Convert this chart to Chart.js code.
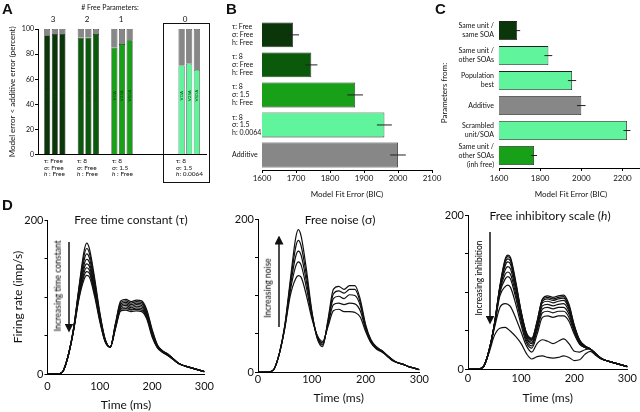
<!DOCTYPE html>
<html>
<head>
<meta charset="utf-8">
<script src="https://cdn.jsdelivr.net/npm/chart.js@4.4.0/dist/chart.umd.min.js"></script>
<style>
html, body { margin: 0; padding: 0; background: #fff; overflow: hidden; }
#fig { position: relative; width: 640px; height: 412px; font-family: Lato, 'Open Sans', sans-serif; color: #111; overflow: hidden; }
canvas { position: absolute; }
.t { position: absolute; white-space: nowrap; line-height: 1; }
.letter { font-family: 'Liberation Sans', Arial, sans-serif; font-weight: bold; font-size: 15px; }
.rot { transform: translate(-50%, -50%) rotate(-90deg); color: #000; }
.ctr { transform: translate(-50%, -50%); }
.params { font-size: 6.5px; line-height: 6.6px; }
</style>
</head>
<body>
<div id="fig">
  <canvas id="cA" width="207" height="160" style="left:0;top:0"></canvas>
  <canvas id="cB" width="212" height="188" style="left:232px;top:14px"></canvas>
  <canvas id="cC" width="210" height="200" style="left:436px;top:0"></canvas>
  <canvas id="cD1" width="220" height="214" style="left:0;top:200px"></canvas>
  <canvas id="cD2" width="205" height="212" style="left:225px;top:200px"></canvas>
  <canvas id="cD3" width="205" height="213" style="left:435px;top:196px"></canvas>
  <div id="overlay"></div>
  <svg width="640" height="412" style="position:absolute;left:0;top:0">
    <defs>
      <marker id="ah" markerWidth="6" markerHeight="6" refX="3" refY="3" orient="auto">
        <path d="M0,0 L6,3 L0,6 z" fill="#111"></path>
      </marker>
    </defs>
    <line x1="69" y1="242" x2="69" y2="328" stroke="#111" stroke-width="1.5" marker-end="url(#ah)"></line>
    <line x1="279" y1="327" x2="279" y2="240" stroke="#111" stroke-width="1.5" marker-end="url(#ah)"></line>
    <line x1="490" y1="232" x2="490" y2="320" stroke="#111" stroke-width="1.5" marker-end="url(#ah)"></line>
  </svg>
</div>
<script>
// ---- panel A: % of units where model error < additive error
const groupLabels = ['3', '2', '1', '', '0'];
const barNames = ['VDA', 'V2SA', 'VSDA'];
const firstBar = [95, 93, 85, null, 71];
const secondBar = [96, 93, 88, null, 72.5];
const thirdBar = [96, 96, 91, null, 67.5];
const aTicks = [0, 20, 40, 60, 80, 100];

// ---- panel B: fit error per parameter set
const bLabels = [['τ: Free', 'σ: Free', 'h: Free'], ['τ: 8', 'σ: Free', 'h: Free'],
  ['τ: 8', 'σ: 1.5', 'h: Free'], ['τ: 8', 'σ: 1.5', 'h: 0.0064'], 'Additive'];
const bBic = [1691, 1745, 1874, 1960, 2000];
const bErr = [18, 18, 23, 22, 23];

// ---- panel C: fit error by parameter source
const cLabels = [['Same unit /', 'same SOA'], ['Same unit /', 'other SOAs'], ['Population', 'best'],
  'Additive', ['Scrambled', 'unit/SOA'], ['Same unit /', 'other SOAs', '(inh free)']];
const cBic = [1688, 1840, 1955, 2000, 2222, 1770];
const cErr = [15, 19, 20, 21, 17, 15];

// ---- panel D: model firing rate curves
const timeMs = [0, 10, 20, 25, 30, 40, 50, 60, 70, 75, 80, 90, 100, 110, 120, 130, 140, 150, 160, 170, 180, 190, 200, 210, 220, 230, 240, 250, 260, 270, 280, 290, 300];

const tau1 = [0,0,0,1,4,25,60,112,160,170,163,125,80,46,35,66,95,97,94,96,95,83,58,38,30,26,20,14,11,9,7,5,3];
const tau2 = [0,0,0,1,4,25,60,110,154,163,157,121,78,45,35,65,93,95,92,94,93,81,56,37,30,26,20,14,11,9,7,5,3];
const tau3 = [0,0,0,1,4,25,59,108,148,156,151,117,76,45,35,64,91,93,90,92,91,79,55,37,30,25,20,14,11,9,7,5,3];
const tau4 = [0,0,0,1,4,25,59,105,142,149,145,113,74,44,35,63,89,91,88,90,89,77,54,36,29,25,20,14,11,9,7,5,3];
const tau5 = [0,0,0,1,4,25,58,103,137,143,140,110,72,44,35,62,87,89,86,88,87,76,52,36,29,25,20,14,11,9,7,5,3];
const tau6 = [0,0,0,1,4,25,58,101,132,138,135,107,71,43,35,61,85,87,84,86,85,74,51,35,29,25,19,14,11,9,7,5,3];
const tau7 = [0,0,0,1,4,25,57,99,128,133,131,104,70,43,35,60,84,85,83,84,83,73,50,35,29,24,19,14,11,9,7,5,3];
const tau8 = [0,0,0,1,4,25,57,97,123,128,126,101,68,42,35,59,82,83,81,82,81,71,48,34,28,24,19,14,11,9,7,5,3];

const noise1 = [0,0,0,1,4,25,62,120,175,186,178,134,80,44,33,68,108,112,108,113,113,95,62,42,33,28,22,16,12,10,7,5,3];
const noise2 = [0,0,0,1,4,25,61,116,163,172,165,126,78,45,35,66,102,106,103,108,108,91,60,41,32,28,22,16,12,10,7,5,3];
const noise3 = [0,0,0,1,4,25,60,111,151,158,153,118,76,46,36,64,96,99,96,101,100,87,58,40,31,27,21,15,12,10,7,5,3];
const noise4 = [0,0,0,1,4,25,59,106,138,144,140,110,74,47,38,62,88,90,88,90,89,80,56,39,31,27,21,15,12,10,7,5,3];
const noise5 = [0,0,0,1,4,25,58,100,122,126,124,100,70,48,40,59,80,82,79,79,78,72,53,38,30,26,21,15,12,10,7,5,3];

const inh1 = [0,0,0,1,4,25,60,108,143,148,145,113,75,47,40,62,91,95,93,95,96,84,57,38,30,26,20,14,11,9,7,5,3];
const inh2 = [0,0,0,1,4,25,60,107,141,146,143,111,74,46,39,61,90,93,91,93,94,82,56,37,30,26,20,14,11,9,7,5,3];
const inh3 = [0,0,0,1,4,25,60,106,138,143,140,109,73,45,38,60,88,91,89,91,92,80,55,37,30,26,20,14,11,9,7,5,3];
const inh4 = [0,0,0,1,4,25,59,105,134,139,136,106,71,44,37,58,86,88,86,88,89,78,54,36,29,26,20,14,11,9,7,5,3];
const inh5 = [0,0,0,1,4,25,59,103,129,133,130,102,68,42,35,56,82,84,82,84,85,75,52,35,29,26,20,14,11,9,7,5,3];
const inh6 = [0,0,0,1,4,25,58,101,123,126,123,97,65,40,33,53,78,80,78,80,80,71,50,34,28,26,20,14,11,9,7,5,3];
const inh7 = [0,0,0,1,4,25,58,99,117,120,117,92,62,37,30,50,73,75,73,75,75,67,48,33,28,26,20,14,11,9,7,5,3];
const inh8 = [0,0,0,1,4,25,57,95,107,109,106,84,57,34,27,45,67,69,67,69,69,62,45,32,28,26,20,14,11,9,7,5,3];
const inh9 = [0,0,0,1,4,24,54,80,85,84,81,66,48,30,22,33,38,36,33,36,39,33,23,22,25,26,19,14,11,9,7,5,3];
const inh10 = [0,0,0,1,4,22,44,53,54,52,49,42,33,20,13,16,17,15,14,15,17,15,11,12,19,23,18,13,11,9,7,5,3];

const darkGreen = '#0a360a', midGreen = '#0b5a0b', green = '#18a018', lightGreen = '#60f59c', grey = '#878787';

Chart.defaults.font.family = "Lato, 'Open Sans', sans-serif";
Chart.defaults.color = '#111';
Chart.defaults.animation = false;
Chart.defaults.responsive = false;
Chart.defaults.plugins.legend.display = false;
Chart.defaults.plugins.tooltip.enabled = false;

// text labels rotated inside the green bars of panel A
const barText = {
  id: 'barText',
  afterDatasetsDraw(chart, args, opts) {
    const ctx = chart.ctx, y = chart.scales.y;
    ctx.save();
    ctx.font = '4.5px Lato';
    ctx.fillStyle = '#0a4a0a';
    ctx.textAlign = 'center';
    ctx.textBaseline = 'middle';
    [0, 2, 4].forEach((di, k) => {
      chart.getDatasetMeta(di).data.forEach((bar, i) => {
        if (chart.data.datasets[di].data[i] == null) return;
        ctx.save();
        ctx.translate(bar.x, y.getPixelForValue(opts.at));
        ctx.rotate(-Math.PI / 2);
        ctx.fillText(barNames[k], 0, 0);
        ctx.restore();
      });
    });
    ctx.restore();
  }
};

// horizontal error bars at the bar ends
const errBars = {
  id: 'errBars',
  afterDatasetsDraw(chart, args, opts) {
    const ctx = chart.ctx, x = chart.scales.x;
    const ds = chart.data.datasets[0];
    ctx.save();
    ctx.strokeStyle = '#222';
    ctx.lineWidth = 1;
    chart.getDatasetMeta(0).data.forEach((bar, i) => {
      const v = ds.data[i], e = opts.err[i];
      ctx.beginPath();
      ctx.moveTo(x.getPixelForValue(v - e), bar.y);
      ctx.lineTo(x.getPixelForValue(v + e), bar.y);
      ctx.stroke();
    });
    ctx.restore();
  }
};

// ---------- Panel A
const groupColors = [darkGreen, midGreen, green, '#fff', lightGreen];
const rest = arr => arr.map(v => v == null ? null : 100 - v);
const aSets = [];
[firstBar, secondBar, thirdBar].forEach((arr, k) => {
  aSets.push({ label: barNames[k], data: arr, stack: 's' + k, backgroundColor: groupColors, borderColor: '#1a1a1a', borderWidth: 0.6 });
  aSets.push({ label: barNames[k] + ' rest', data: rest(arr), stack: 's' + k, backgroundColor: grey, borderColor: '#1a1a1a', borderWidth: 0.6 });
});

new Chart(document.getElementById('cA'), {
  type: 'bar',
  data: { labels: groupLabels, datasets: aSets },
  options: {
    layout: { padding: { top: 29, right: 1, left: 0, bottom: 0 } },
    categoryPercentage: 0.68,
    barPercentage: 0.8,
    plugins: { barText: { at: 47 } },
    scales: {
      x: {
        stacked: true,
        ticks: { display: false },
        grid: { display: false, drawTicks: false },
        border: { color: '#000', width: 1 },
        afterFit: s => { s.height = 3; }
      },
      y: {
        stacked: true, min: 0, max: 100,
        afterBuildTicks: s => { s.ticks = aTicks.map(v => ({ value: v })); },
        ticks: { font: { size: 7 }, padding: 1 },
        grid: { display: true, drawOnChartArea: false, tickLength: 3, color: '#000' },
        border: { color: '#000', width: 1 },
        title: { display: true, text: 'Model error < additive error (percent)', font: { size: 8 }, padding: { top: 8, bottom: 0 } },
        afterFit: s => { s.width = 38; }
      }
    }
  },
  plugins: [barText]
});

// ---------- Panel B
new Chart(document.getElementById('cB'), {
  type: 'bar',
  data: {
    labels: bLabels,
    datasets: [{ data: bBic, backgroundColor: [darkGreen, midGreen, green, lightGreen, grey], borderColor: '#222', borderWidth: 0.8 }]
  },
  options: {
    indexAxis: 'y',
    layout: { padding: { top: 4, right: 12, left: 0, bottom: 0 } },
    categoryPercentage: 0.83,
    barPercentage: 1,
    plugins: { errBars: { err: bErr } },
    scales: {
      x: {
        min: 1600, max: 2100,
        ticks: { stepSize: 100, font: { size: 8 }, padding: 1, maxRotation: 0, callback: v => String(v) },
        grid: { display: true, drawOnChartArea: false, tickLength: 3, color: '#000' },
        border: { color: '#000', width: 1 },
        title: { display: true, text: 'Model Fit Error (BIC)', font: { size: 8 }, padding: { top: 0, bottom: 3 } },
        afterFit: s => { s.height = 32; }
      },
      y: {
        ticks: { font: { size: 7, lineHeight: 1.1 }, crossAlign: 'far', padding: 2, autoSkip: false },
        grid: { display: false, drawTicks: false },
        border: { display: false },
        afterFit: s => { s.width = 30; }
      }
    }
  },
  plugins: [errBars]
});

// ---------- Panel C
new Chart(document.getElementById('cC'), {
  type: 'bar',
  data: {
    labels: cLabels,
    datasets: [{ data: cBic, backgroundColor: [darkGreen, lightGreen, lightGreen, grey, lightGreen, green], borderColor: '#222', borderWidth: 0.8 }]
  },
  options: {
    indexAxis: 'y',
    layout: { padding: { top: 9, right: 3, left: 0, bottom: 0 } },
    categoryPercentage: 0.76,
    barPercentage: 1,
    plugins: { errBars: { err: cErr } },
    scales: {
      x: {
        min: 1600, max: 2300,
        ticks: { stepSize: 100, font: { size: 8 }, padding: 3, maxRotation: 0, callback: v => (v % 200 === 0 ? String(v) : '') },
        grid: { display: true, drawOnChartArea: false, tickLength: 3, color: '#000' },
        border: { color: '#000', width: 1 },
        title: { display: true, text: 'Model Fit Error (BIC)', font: { size: 8 }, padding: { top: 0, bottom: 1 } },
        afterFit: s => { s.height = 32; }
      },
      y: {
        ticks: { font: { size: 7, lineHeight: 1.25 }, padding: 5, autoSkip: false },
        grid: { display: false, drawTicks: false },
        border: { display: false },
        title: { display: true, text: 'Parameters from:', font: { size: 8 }, padding: { top: 4, bottom: 0 } },
        afterFit: s => { s.width = 63; }
      }
    }
  },
  plugins: [errBars]
});

// ---------- Panel D
function rateChart(id, curves, o) {
  return new Chart(document.getElementById(id), {
    type: 'line',
    data: {
      datasets: curves.map(c => ({
        data: c.map((v, i) => ({ x: timeMs[i], y: v })),
        borderColor: '#111', borderWidth: 1.2, pointRadius: 0, fill: false,
        cubicInterpolationMode: 'monotone'
      }))
    },
    options: {
      layout: { padding: { top: o.top, right: 10, left: 0, bottom: 0 } },
      scales: {
        x: {
          type: 'linear', min: 0, max: 300,
          ticks: { stepSize: 100, font: { size: 11 }, padding: o.xPad, maxRotation: 0 },
          grid: { display: false, drawTicks: false },
          border: { color: '#000', width: 1 },
          title: { display: true, text: 'Time (ms)', font: { size: 12 }, padding: { top: 0, bottom: o.tPad } },
          afterFit: s => { s.height = 40; }
        },
        y: {
          min: 0, max: 200,
          ticks: { stepSize: 50, font: { size: 11 }, padding: 1, callback: v => (v === 0 || v === 200 ? String(v) : '') },
          grid: { display: true, drawOnChartArea: false, tickLength: 3, color: '#000' },
          border: { color: '#000', width: 1 },
          title: { display: !!o.yTitle, text: o.yTitle || '', font: { size: 12 }, padding: { top: 11, bottom: 0 } },
          afterFit: s => { s.width = o.yW; }
        }
      }
    }
  });
}

rateChart('cD1', [tau1, tau2, tau3, tau4, tau5, tau6, tau7, tau8], { top: 20, xPad: 6, tPad: 2, yW: 47.5, yTitle: 'Firing rate (imp/s)' });
rateChart('cD2', [noise1, noise2, noise3, noise4, noise5], { top: 19, xPad: 1, tPad: 7, yW: 33 });
rateChart('cD3', [inh1, inh2, inh3, inh4, inh5, inh6, inh7, inh8, inh9, inh10], { top: 19, xPad: 3, tPad: 4, yW: 33 });

// ---------- text overlays
const overlay = document.getElementById('overlay');
function addText(html, x, y, cls, style) {
  const d = document.createElement('div');
  d.className = 't ' + (cls || '');
  d.innerHTML = html;
  d.style.left = x + 'px';
  d.style.top = y + 'px';
  if (style) d.style.cssText += style;
  overlay.appendChild(d);
  return d;
}

addText('A', 2, 1, 'letter');
addText('B', 226, 1, 'letter');
addText('C', 435, 1, 'letter');
addText('D', 2, 197, 'letter');

addText('# Free Parameters:', 110, 7, 'ctr', 'font-size:7px');
[['3', 53], ['2', 87], ['1', 121], ['0', 185]].forEach(([s, x]) => addText(s, x, 19, 'ctr', 'font-size:8px'));

const aParams = [
  [44, 'τ: Free<br>σ: Free<br><i>h</i> : Free'],
  [77, 'τ: 8<br>σ: Free<br><i>h</i> : Free'],
  [112, 'τ: 8<br>σ: 1.5<br><i>h</i> : Free'],
  [176, 'τ: 8<br>σ: 1.5<br><i>h</i>: 0.0064']
];
aParams.forEach(([x, s]) => addText(s, x, 158, 'params'));

const box = document.createElement('div');
box.style.cssText = 'position:absolute;left:163px;top:23px;width:45px;height:158px;border:1.5px solid #111;';
overlay.appendChild(box);

addText('Free time constant (τ)', 131, 220, 'ctr', 'font-size:12px');
addText('Free noise (σ)', 340, 220, 'ctr', 'font-size:12px');
addText('Free inhibitory scale (<i>h</i>)', 550, 216, 'ctr', 'font-size:12px');

addText('Increasing time constant', 58, 286, 'rot', 'font-size:8.5px');
addText('Increasing noise', 268, 288, 'rot', 'font-size:8.5px');
addText('Increasing inhibition', 479, 278, 'rot', 'font-size:8.5px');
</script>
</body>
</html>
